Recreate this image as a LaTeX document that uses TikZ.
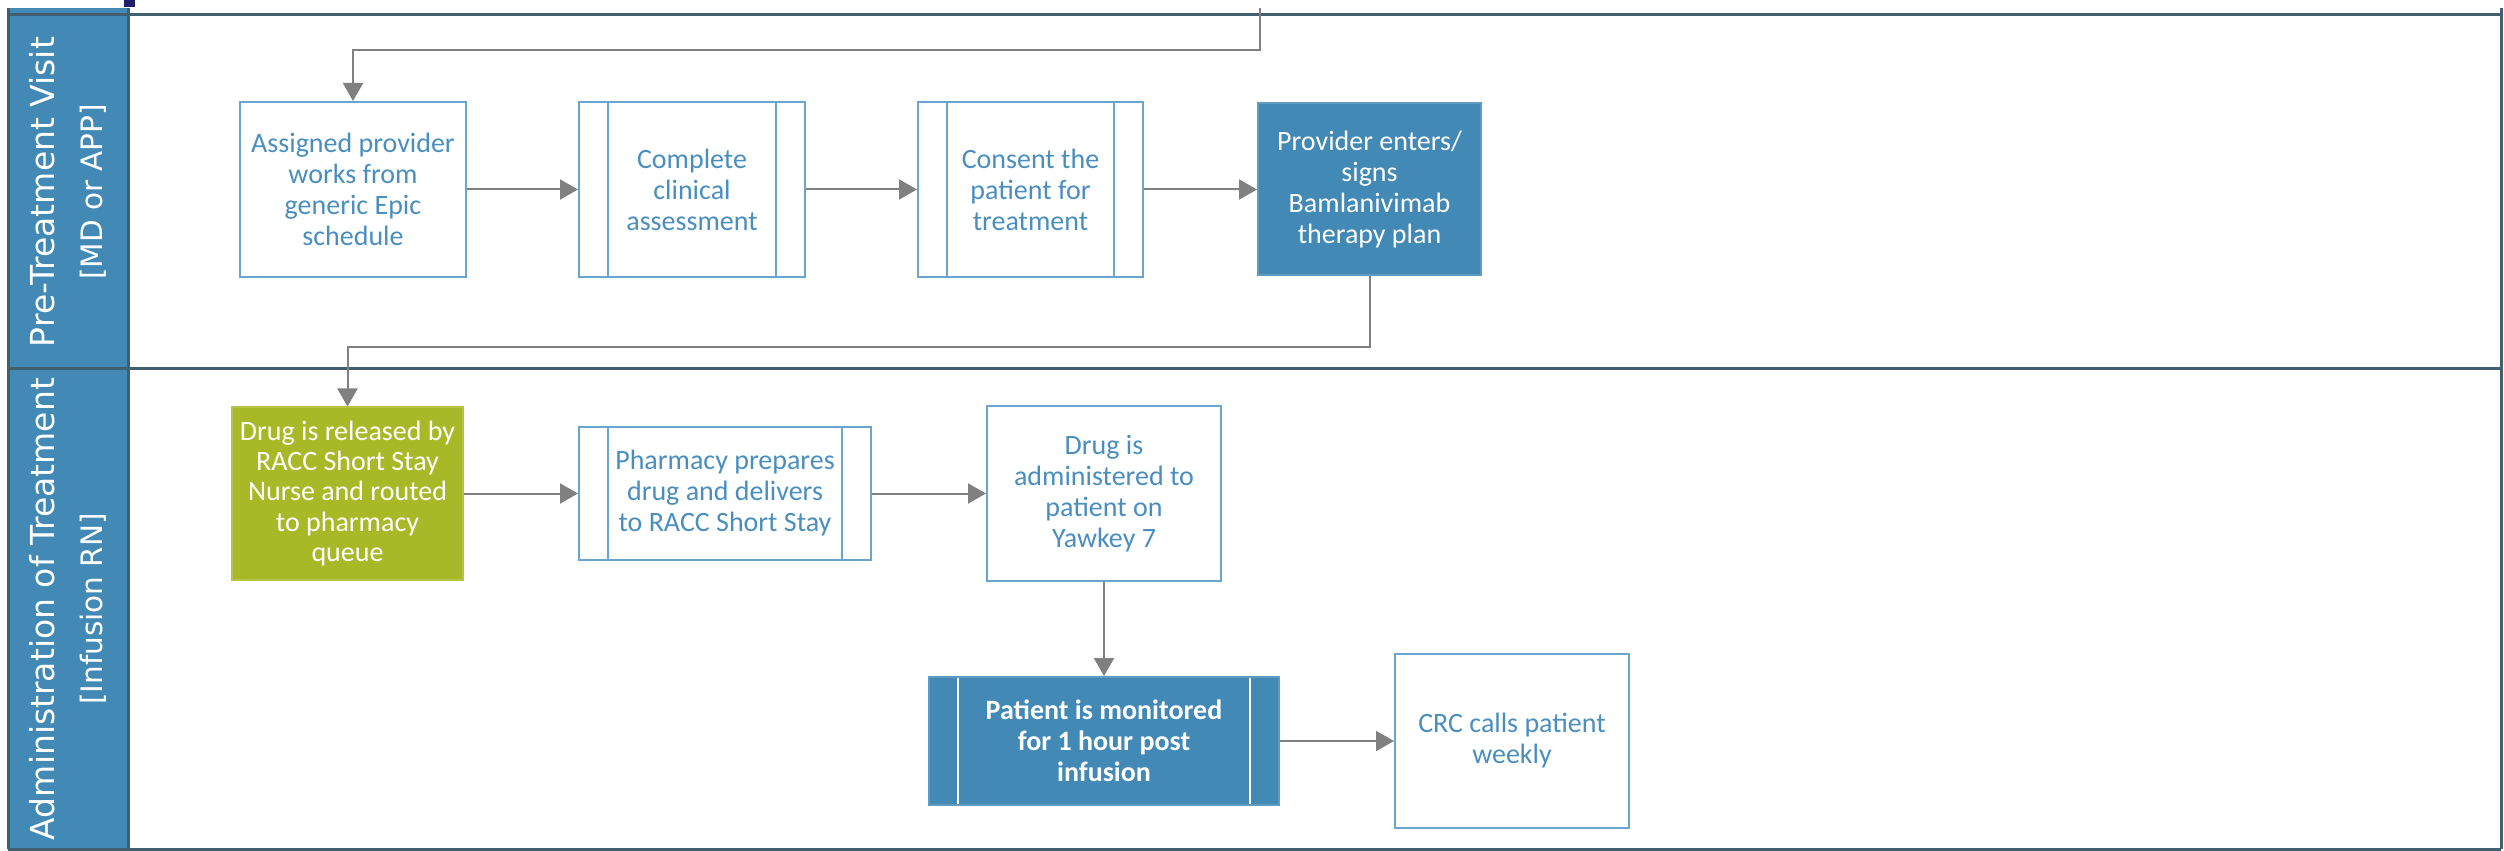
\documentclass[tikz,border=0pt]{standalone}
\usepackage{fontspec}
\setmainfont{Carlito}
\newfontfamily\lanefont{DejaVu Sans}
\usetikzlibrary{arrows.meta}

\newlength{\unitpx}
\setlength{\unitpx}{0.4pt}

\definecolor{lanefill}{HTML}{4289B5}
\definecolor{laneline}{HTML}{41606F}
\definecolor{stepblue}{HTML}{4289B5}
\definecolor{stepline}{HTML}{6AA5CF}
\definecolor{steptext}{HTML}{4A8EC0}
\definecolor{drugfill}{HTML}{A8B928}
\definecolor{flowgray}{HTML}{808080}
\definecolor{cornernavy}{HTML}{1E1E6A}

\tikzset{
  flow/.style={draw=flowgray, line width=0.8pt, -{Triangle[length=7.2pt,width=8pt]}},
  stepbox/.style={draw=stepline, line width=0.8pt, text=steptext, align=center, inner sep=0pt,
    font=\fontsize{11.2}{12.4}\selectfont},
  bluebox/.style={stepbox, fill=stepblue, draw=stepblue!85!white, text=white},
  greenbox/.style={stepbox, fill=drugfill, draw=drugfill!85!white, text=white},
  sidebars/.style={path picture={
    \draw[#1, line width=0.8pt]
      ([xshift=29\unitpx]path picture bounding box.north west) -- ([xshift=29\unitpx]path picture bounding box.south west)
      ([xshift=-29\unitpx]path picture bounding box.north east) -- ([xshift=-29\unitpx]path picture bounding box.south east);}},
  lanehead/.style={text=white, align=center, rotate=90, inner sep=0pt,
    font=\lanefont\fontsize{11.8}{19}\selectfont},
  laneedge/.style={draw=laneline, line width=1.2pt}
}
\newcommand{\lanetitle}[1]{{\fontsize{13.2}{19}\selectfont #1}}

\begin{document}
\begin{tikzpicture}[x=0.4pt,y=0.4pt,yscale=-1,xscale=1]
	\useasboundingbox (0,0) rectangle (2504,851);
	
	%Shape: Lane headers
	\fill[lanefill] (8,8) rectangle (128,849);
	\fill[cornernavy] (124,0) rectangle (135,7);
	%Straight Lines: pool frame
	\draw[laneedge] (8,15) -- (2501,15);
	\draw[laneedge] (8,369) -- (2501,369);
	\draw[laneedge] (8,849) -- (2501,849);
	\draw[laneedge] (8,8) -- (8,849);
	\draw[laneedge] (128,8) -- (128,849);
	\draw[laneedge] (2501,8) -- (2501,849);
	
	% Text Node
	\node[lanehead] (visitlane) at (68,192) {\lanetitle{Pre-Treatment Visit}\\{[MD or APP]}};
	% Text Node
	\node[lanehead] (infusionlane) at (68,609) {\lanetitle{Administration of Treatment}\\{[Infusion RN]}};
	
	%Shape: Pre-Treatment steps
	\node[stepbox, minimum width=226\unitpx, minimum height=175\unitpx] (assign) at (353,189.5) {Assigned provider\\works from\\generic Epic\\schedule};
	\node[stepbox, sidebars=stepline, minimum width=226\unitpx, minimum height=175\unitpx] (assess) at (692,189.5) {Complete\\clinical\\assessment};
	\node[stepbox, sidebars=stepline, minimum width=225\unitpx, minimum height=175\unitpx] (consent) at (1030.5,189.5) {Consent the\\patient for\\treatment};
	\node[bluebox, minimum width=223\unitpx, minimum height=172\unitpx] (plan) at (1369.5,189.5) {Provider enters/\\signs\\Bamlanivimab\\therapy plan};
	
	%Shape: Treatment steps
	\node[greenbox, font=\fontsize{11.2}{12.1}\selectfont, minimum width=231\unitpx, minimum height=172\unitpx] (release) at (347.5,493.5) {Drug is released by\\RACC Short Stay\\Nurse and routed\\to pharmacy\\queue};
	\node[stepbox, sidebars=stepline, minimum width=292\unitpx, minimum height=132\unitpx] (prepare) at (725,493.5) {Pharmacy prepares\\drug and delivers\\to RACC Short Stay};
	\node[stepbox, minimum width=234\unitpx, minimum height=175\unitpx] (admin) at (1104,493.5) {Drug is\\administered to\\patient on\\Yawkey 7};
	\node[bluebox, sidebars=white, font=\bfseries\fontsize{11.2}{12.4}\selectfont, minimum width=350\unitpx, minimum height=128\unitpx] (monitor) at (1104,741) {Patient is monitored\\for 1 hour post\\infusion};
	\node[stepbox, minimum width=234\unitpx, minimum height=174\unitpx] (weekly) at (1512,741) {CRC calls patient\\weekly};
	
	%Straight Lines: flow
	\coordinate (entry) at (1260,8);
	\coordinate (entrybend) at (1260,50);
	\coordinate (planbend) at (1369.5,347);
	\draw[flow] (entry) -- (entrybend) -| (assign.north);
	\draw[flow] (assign) -- (assess);
	\draw[flow] (assess) -- (consent);
	\draw[flow] (consent) -- (plan);
	\draw[flow] (plan.south) -- (planbend) -| (release.north);
	\draw[flow] (release) -- (prepare);
	\draw[flow] (prepare) -- (admin);
	\draw[flow] (admin) -- (monitor);
	\draw[flow] (monitor) -- (weekly);
	
\end{tikzpicture}
\end{document}
